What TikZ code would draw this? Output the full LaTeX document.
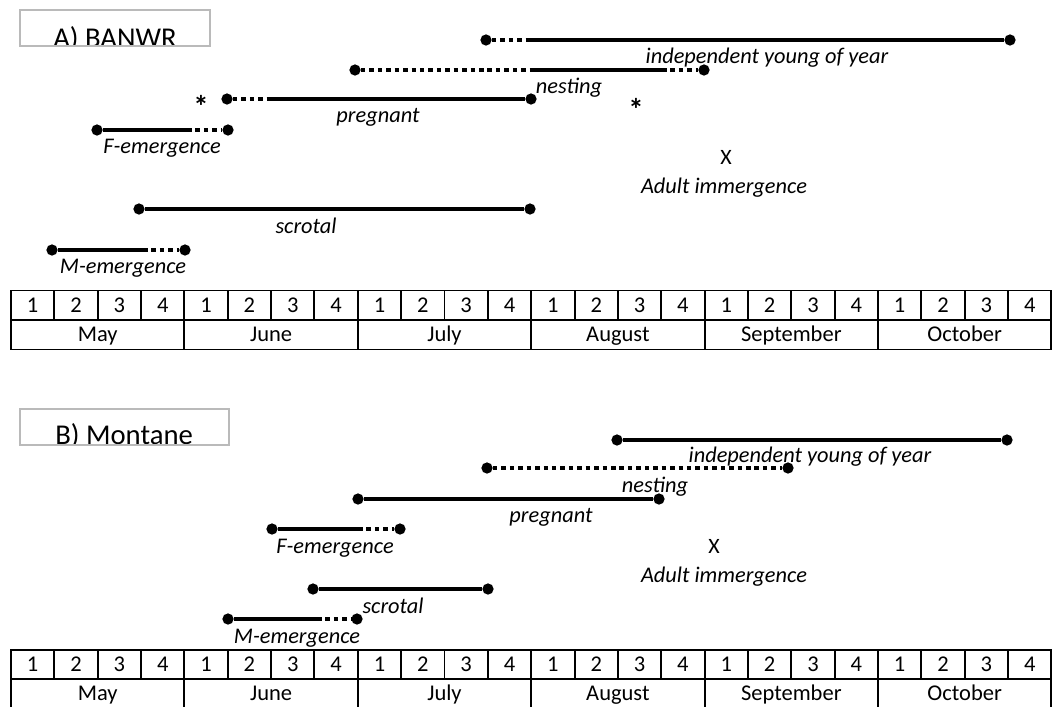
\documentclass[tikz,border=0pt]{standalone}
\usepackage{fontspec}
\setmainfont{Carlito}
\usepackage{tikz}

\begin{document}
\begin{tikzpicture}[x=0.025cm, y=-0.025cm,
  dot/.style={circle, fill, inner sep=0pt, minimum size=8pt},
  phase/.style={line width=2.4pt},
  phasedot/.style={line width=2.4pt, dash pattern=on 3.2pt off 2.8pt},
  lbl/.style={inner sep=0pt, anchor=base, font=\fontsize{15.9}{18}\selectfont\itshape},
  mark sym/.style={inner sep=0pt, anchor=base, font=\fontsize{15.6}{18}\selectfont},
  star sym/.style={inner sep=0pt, anchor=base, font=\fontsize{22}{26}\selectfont\bfseries},
  cell/.style={inner sep=0pt, anchor=base, font=\fontsize{16}{19}\selectfont},
  tabline/.style={line width=1.4pt},
  ttl/.style={inner sep=0pt, font=\fontsize{20.4}{24}\selectfont},
  titlebox/.style={draw=black!27, line width=0.8pt}]
  \useasboundingbox (0,0) rectangle (1057,706);

  % week / month tables
  \foreach \ty/\tp in {290.5/A,649.5/B} {
    \draw[tabline] (11,\ty) rectangle (1051.4,\ty+59);
    \draw[tabline] (11,\ty+29.5) -- (1051.4,\ty+29.5);
    \foreach \k in {1,...,23}
      \draw[tabline] (11+\k*43.35,\ty) -- (11+\k*43.35,\ty+29.5);
    \foreach \m [count=\i from 0] in {May,June,July,August,September,October} {
      \draw[tabline] (11+\i*173.4,\ty) -- (11+\i*173.4,\ty+59);
      \node[cell] (mo\tp\i) at (11+\i*173.4+86.7,\ty+51) {\m};
      \foreach \w in {1,...,4}
        \node[cell] (wk\tp\i\w) at (11+\i*173.4+\w*43.35-21.7,\ty+22) {\w};
    }
  }

  % A) BANWR
  \begin{scope}
    \clip (20,10) rectangle (210,46);
    \node[ttl, anchor=base west] (ttlA) at (53,47) {A) BANWR};
  \end{scope}
  \draw[titlebox] (20,10) rectangle (210,46);

  \node[dot] (iyA-l) at (486,40) {};
  \node[dot] (iyA-r) at (1010,40) {};
  \coordinate (iyA-s) at (528,40);
  \draw[phasedot] (iyA-l) -- (iyA-s);
  \draw[phase] (iyA-s) -- (iyA-r);
  \node[lbl] (iyA) at (767,63.5) {independent young of year};

  \node[dot] (nsA-l) at (355,70) {};
  \node[dot] (nsA-r) at (704,70) {};
  \coordinate (nsA-s) at (532,70);
  \coordinate (nsA-e) at (662,70);
  \draw[phasedot] (nsA-l) -- (nsA-s);
  \draw[phase] (nsA-s) -- (nsA-e);
  \draw[phasedot] (nsA-e) -- (nsA-r);
  \node[lbl] (nsA) at (569,93.5) {nesting};

  \node[star sym] (stA1) at (201,117) {*};
  \node[star sym] (stA2) at (636,120) {*};
  \node[dot] (pgA-l) at (227,99) {};
  \node[dot] (pgA-r) at (531,99) {};
  \coordinate (pgA-s) at (268,99);
  \draw[phasedot] (pgA-l) -- (pgA-s);
  \draw[phase] (pgA-s) -- (pgA-r);
  \node[lbl] (pgA) at (378,122.5) {pregnant};

  \node[dot] (feA-l) at (97,130) {};
  \node[dot] (feA-r) at (228,130) {};
  \coordinate (feA-e) at (187,130);
  \draw[phase] (feA-l) -- (feA-e);
  \draw[phasedot] (feA-e) -- (feA-r);
  \node[lbl] (feA) at (162,153.5) {F-emergence};

  \node[mark sym] (xA) at (726,164) {X};
  \node[lbl] (aiA) at (724,193.5) {Adult immergence};

  \node[dot] (scA-l) at (139,209) {};
  \node[dot] (scA-r) at (530,209) {};
  \draw[phase] (scA-l) -- (scA-r);
  \node[lbl] (scA) at (306,233.5) {scrotal};

  \node[dot] (meA-l) at (52,250) {};
  \node[dot] (meA-r) at (185,250) {};
  \coordinate (meA-e) at (143,250);
  \draw[phase] (meA-l) -- (meA-e);
  \draw[phasedot] (meA-e) -- (meA-r);
  \node[lbl] (meA) at (123,273.5) {M-emergence};

  % B) Montane
  \begin{scope}
    \clip (20,409) rectangle (229,445);
    \node[ttl, anchor=base west] (ttlB) at (55,444.5) {B) Montane};
  \end{scope}
  \draw[titlebox] (20,409) rectangle (229,445);

  \node[dot] (iyB-l) at (617,440) {};
  \node[dot] (iyB-r) at (1007,440) {};
  \draw[phase] (iyB-l) -- (iyB-r);
  \node[lbl] (iyB) at (810,462.5) {independent young of year};

  \node[dot] (nsB-l) at (487,468) {};
  \node[dot] (nsB-r) at (788,468) {};
  \draw[phasedot] (nsB-l) -- (nsB-r);
  \node[lbl] (nsB) at (655,492.5) {nesting};

  \node[dot] (pgB-l) at (358,499) {};
  \node[dot] (pgB-r) at (659,499) {};
  \draw[phase] (pgB-l) -- (pgB-r);
  \node[lbl] (pgB) at (551,522.5) {pregnant};

  \node[dot] (feB-l) at (272,529) {};
  \node[dot] (feB-r) at (400,529) {};
  \coordinate (feB-e) at (358,529);
  \draw[phase] (feB-l) -- (feB-e);
  \draw[phasedot] (feB-e) -- (feB-r);
  \node[lbl] (feB) at (335,553.5) {F-emergence};

  \node[mark sym] (xB) at (714,553) {X};
  \node[lbl] (aiB) at (724,582.5) {Adult immergence};

  \node[dot] (scB-l) at (313,589) {};
  \node[dot] (scB-r) at (488,589) {};
  \draw[phase] (scB-l) -- (scB-r);
  \node[lbl] (scB) at (393,613.5) {scrotal};

  \node[dot] (meB-l) at (228,619) {};
  \node[dot] (meB-r) at (357,619) {};
  \coordinate (meB-e) at (317,619);
  \draw[phase] (meB-l) -- (meB-e);
  \draw[phasedot] (meB-e) -- (meB-r);
  \node[lbl] (meB) at (297,643.5) {M-emergence};
\end{tikzpicture}
\end{document}
